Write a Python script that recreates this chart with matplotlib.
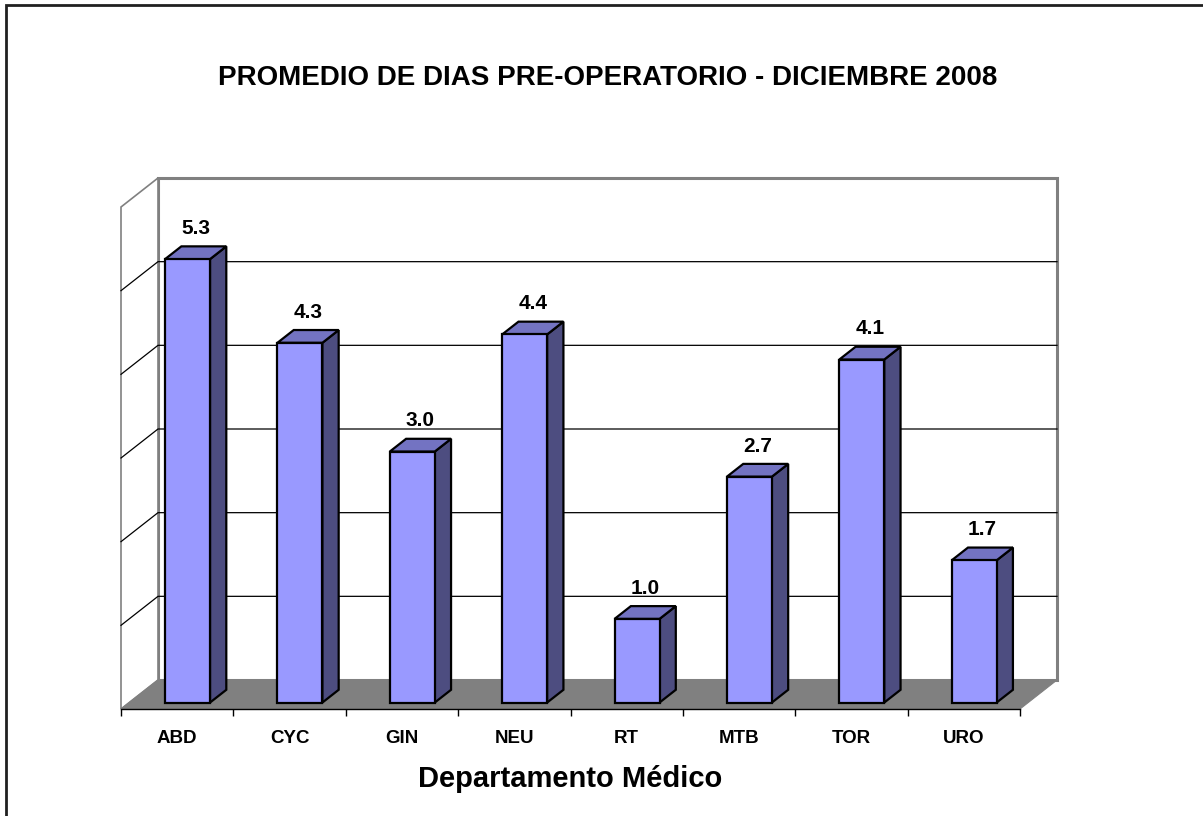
import matplotlib
matplotlib.use("Agg")
import matplotlib.pyplot as plt
from matplotlib.patches import Polygon, Rectangle

# data
categorias = ['ABD', 'CYC', 'GIN', 'NEU', 'RT', 'MTB', 'TOR', 'URO']
promedio = [5.3, 4.3, 3.0, 4.4, 1.0, 2.7, 4.1, 1.7]
etiquetas = ['5.3', '4.3', '3.0', '4.4', '1.0', '2.7', '4.1', '1.7']
ymax = 6

plt.rcParams['font.family'] = ['Liberation Sans', 'DejaVu Sans']

W, H = 1203, 816
fig = plt.figure(figsize=(W / 100, H / 100), dpi=100)
fig.patch.set_facecolor('white')

# front plane of the 3d box (pixels): x 121..1020, y 709 (0) .. 207 (6)
ax = fig.add_axes([121 / W, 1 - 709 / H, (1020 - 121) / W, (709 - 207) / H])
n = len(categorias)
ax.set_xlim(0, n)
ax.set_ylim(0, ymax)
ax.patch.set_visible(False)

# depth of the box in data units
DX = 37 / (899 / n)
DY = 29 / (502 / ymax)
f_bar = 0.28      # bar front position in depth
d_bar = 0.44      # bar depth
ancho = 0.4

wall_c = '#808080'
# back wall
ax.add_patch(Polygon([(DX, DY), (n + DX, DY), (n + DX, ymax + DY), (DX, ymax + DY)],
                     closed=True, facecolor='white', edgecolor=wall_c, lw=2.2,
                     clip_on=False, zorder=1))
# left wall
ax.add_patch(Polygon([(0, 0), (DX, DY), (DX, ymax + DY), (0, ymax)],
                     closed=True, facecolor='white', edgecolor=wall_c, lw=1.2,
                     clip_on=False, zorder=1))
# floor
ax.add_patch(Polygon([(0, 0), (n, 0), (n + DX, DY), (DX, DY)],
                     closed=True, facecolor='#808080', edgecolor='#808080', lw=0.8,
                     clip_on=False, zorder=2))
# gridlines
for v in range(1, ymax):
    ax.plot([0, DX, n + DX], [v, v + DY, v + DY], color='black', lw=0.9,
            clip_on=False, zorder=3)

# bars
x0s = [i + 0.5 + f_bar * DX for i in range(n)]
y0 = f_bar * DY
bars = ax.bar(x0s, promedio, width=ancho, bottom=y0 - 0.02, color='#9999FF',
              edgecolor='black', lw=1.6, zorder=6, clip_on=False)
ddx, ddy = d_bar * DX, d_bar * DY
for b, lab in zip(bars, etiquetas):
    xl, xr = b.get_x(), b.get_x() + b.get_width()
    yb = b.get_y()
    yt = yb + b.get_height()
    ax.add_patch(Polygon([(xr, yb), (xr + ddx, yb + ddy), (xr + ddx, yt + ddy), (xr, yt)],
                         closed=True, facecolor='#4D4D80', edgecolor='black', lw=1.6,
                         clip_on=False, zorder=5))
    ax.add_patch(Polygon([(xl, yt), (xr, yt), (xr + ddx, yt + ddy), (xl + ddx, yt + ddy)],
                         closed=True, facecolor='#7373C2', edgecolor='black', lw=1.6,
                         clip_on=False, zorder=5))
    ax.annotate(lab, ((xl + xr + ddx) / 2, yt + ddy), xytext=(0, 6),
                textcoords='offset points', ha='center', va='bottom',
                fontsize=15, fontweight='bold', zorder=7)

# axis
for s in ['top', 'right', 'left']:
    ax.spines[s].set_visible(False)
ax.spines['bottom'].set_linewidth(1.0)
ax.spines['bottom'].set_zorder(4)
ax.set_yticks([])
ax.set_xticks([i + 0.5 for i in range(n)])
ax.set_xticklabels(categorias, fontsize=13.5, fontweight='bold')
ax.set_xticks(range(n + 1), minor=True)
ax.tick_params(axis='x', which='major', length=0, pad=15)
ax.tick_params(axis='x', which='minor', length=5, width=1.0, color='black')
ax.set_xlabel('Departamento Médico', fontsize=21, fontweight='bold', labelpad=13)

fig.text(608 / W, 1 - 78 / H, 'PROMEDIO DE DIAS PRE-OPERATORIO - DICIEMBRE 2008',
         ha='center', va='center', fontsize=20, fontweight='bold')

# outer chart border (top and left visible)
fig.patches.append(Rectangle((6 / W, -0.1), 1.2, 1.1 - 5 / H, transform=fig.transFigure,
                             fill=False, edgecolor='#202020', lw=2.0, zorder=0))

fig.savefig('out.png', dpi=100)
